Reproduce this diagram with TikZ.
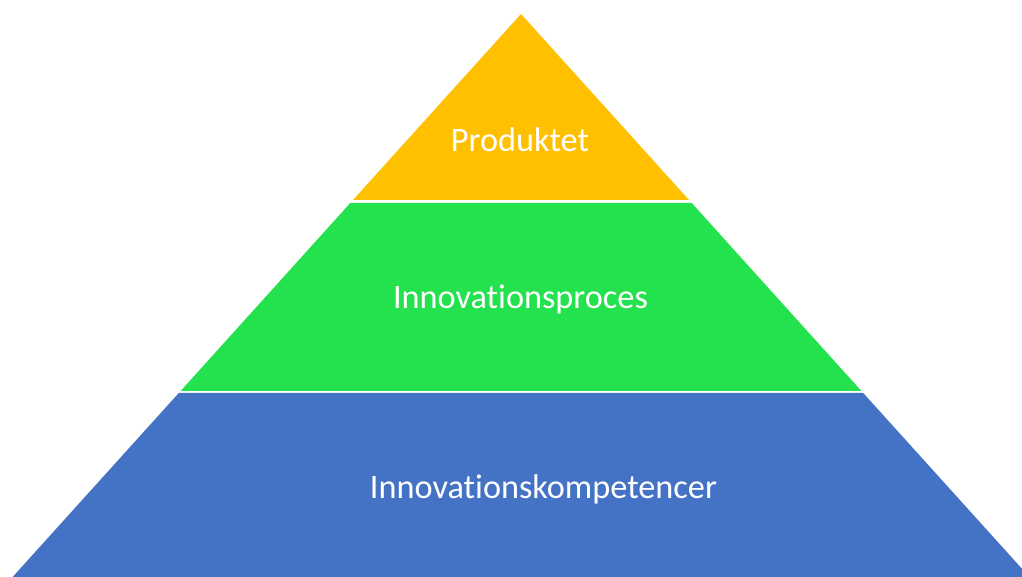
\documentclass[tikz,border=0pt]{standalone}
\usepackage{fontspec}
\setmainfont{Carlito}[Ligatures=NoCommon]
\usepackage{tikz}
\usetikzlibrary{positioning}

\definecolor{topyellow}{RGB}{255,192,0}
\definecolor{midgreen}{RGB}{36,226,78}
\definecolor{basblue}{RGB}{68,114,196}

\begin{document}
\begin{tikzpicture}[x=0.01cm, y=-0.01cm,
    layertext/.style={text=white, font=\fontsize{9.75pt}{11pt}\selectfont, anchor=base, inner sep=0pt}]

        \useasboundingbox (0,0) rectangle (1022,577);
        \clip (0,0) rectangle (1022,577);

        % corners of the layers
        \coordinate (apex) at (521,14);
        \coordinate (yl) at (353,200);
        \coordinate (yr) at (689,200);
        \coordinate (gtl) at (350.3,203);
        \coordinate (gtr) at (691.7,203);
        \coordinate (gbl) at (180.6,391);
        \coordinate (gbr) at (861.4,391);
        \coordinate (btl) at (178.8,393);
        \coordinate (btr) at (863.2,393);
        \coordinate (bbl) at (12.6,577);
        \coordinate (bbr) at (1029.4,577);

        \fill[topyellow] (apex) -- (yr) -- (yl) -- cycle;
        \fill[midgreen] (gtl) -- (gtr) -- (gbr) -- (gbl) -- cycle;
        \fill[basblue] (btl) -- (btr) -- (bbr) -- (bbl) -- cycle;

        \node[layertext] (produkt) at (520,152) {Produktet};
        \node[layertext] (proces) at (520.5,309) {Innovationsproces};
        \node[layertext] (kompetence) at (543.5,499) {Innovationskompetencer};

\end{tikzpicture}
\end{document}
